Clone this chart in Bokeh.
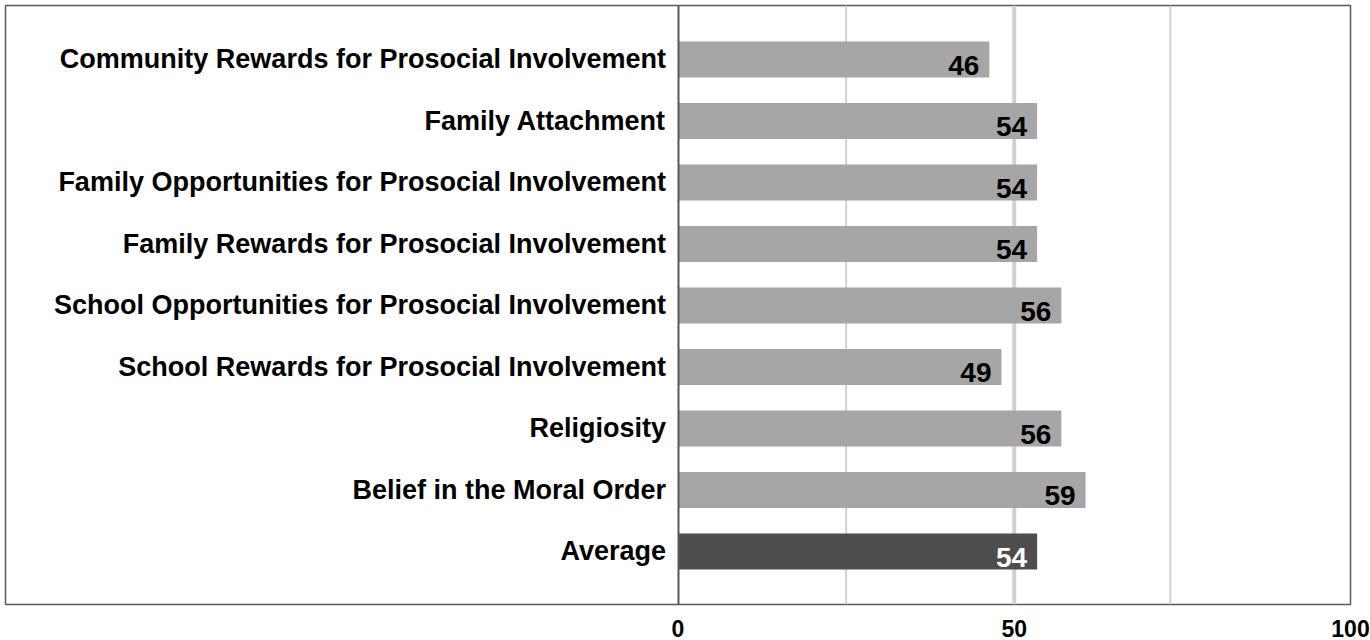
from bokeh.plotting import figure
from bokeh.models import Range1d, FixedTicker, Span, ColumnDataSource
from bokeh.core.properties import value
from bokeh.embed import file_html
from bokeh.resources import INLINE

categories = [
    "Community Rewards for Prosocial Involvement",
    "Family Attachment",
    "Family Opportunities for Prosocial Involvement",
    "Family Rewards for Prosocial Involvement",
    "School Opportunities for Prosocial Involvement",
    "School Rewards for Prosocial Involvement",
    "Religiosity",
    "Belief in the Moral Order",
    "Average",
]
bar_values = [46.3, 53.4, 53.4, 53.4, 57.0, 48.1, 57.0, 60.6, 53.4]
label_values = [46, 54, 54, 54, 56, 49, 56, 59, 54]
x_ticks = [0, 50, 100]
thin_grid = [25, 73.2]
ref_line = [50]

bar_colors = ["#a6a6a6"] * 8 + ["#4d4d4d"]
text_colors = ["#000000"] * 8 + ["#ffffff"]

n = len(categories)
ypos = [n - 1 - i for i in range(n)]

src = ColumnDataSource(dict(
    y=ypos, right=bar_values, label=[str(v) for v in label_values],
    color=bar_colors, tcolor=text_colors,
))

FONT = "Liberation Sans"

p = figure(
    frame_width=1345, frame_height=599,
    x_range=Range1d(-100, 100), y_range=Range1d(-0.862, n - 1 + 0.878),
    output_backend="svg", toolbar_location=None,
    min_border_left=5, min_border_top=5, min_border_right=20, min_border_bottom=36,
)
p.background_fill_color = "white"
p.border_fill_color = "white"
p.outline_line_color = "#595959"
p.outline_line_width = 1.5
p.xgrid.visible = False
p.ygrid.visible = False

for g in thin_grid:
    p.add_layout(Span(location=g, dimension="height", line_color="#d0d0d0",
                      line_width=2, level="underlay"))
for g in ref_line:
    p.add_layout(Span(location=g, dimension="height", line_color="#d0d0d0",
                      line_width=4, level="underlay"))

p.hbar(y="y", left=0, right="right", height=0.585, fill_color="color",
       line_color=None, source=src)

p.text(x="right", y="y", text="label", text_align="right", text_baseline="middle",
       x_offset=-10, y_offset=6, text_font=value(FONT), text_font_style="bold",
       text_font_size="28px", text_color="tcolor", source=src)

# y axis placed at x = 0 inside the frame
p.yaxis.ticker = FixedTicker(ticks=ypos)
p.yaxis.major_label_overrides = {y: c for y, c in zip(ypos, categories)}
p.yaxis.fixed_location = 0
p.yaxis.axis_line_color = "#595959"
p.yaxis.axis_line_width = 2
p.yaxis.major_tick_line_color = None
p.yaxis.minor_tick_line_color = None
p.yaxis.major_label_standoff = 6
p.yaxis.major_label_text_font = FONT
p.yaxis.major_label_text_font_style = "bold"
p.yaxis.major_label_text_font_size = "27px"
p.yaxis.major_label_text_color = "#000000"

p.xaxis.ticker = FixedTicker(ticks=x_ticks)
p.xaxis.axis_line_color = None
p.xaxis.major_tick_line_color = None
p.xaxis.minor_tick_line_color = None
p.xaxis.major_label_standoff = 9
p.xaxis.major_label_text_font = FONT
p.xaxis.major_label_text_font_style = "bold"
p.xaxis.major_label_text_font_size = "23px"
p.xaxis.major_label_text_color = "#000000"

open("out.html", "w").write(file_html(p, INLINE))
